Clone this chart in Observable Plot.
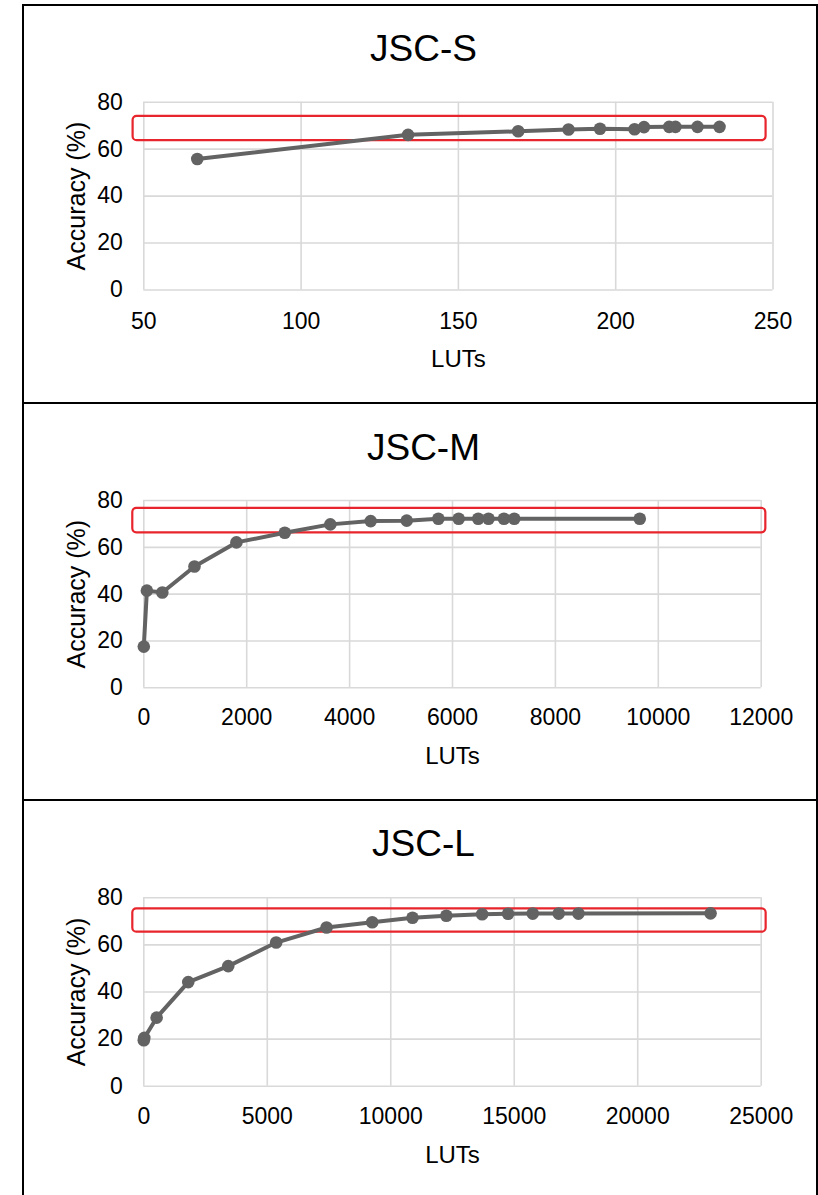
<!DOCTYPE html>
<html><head><meta charset="utf-8">
<script src="https://cdn.jsdelivr.net/npm/d3@7"></script>
<script src="https://cdn.jsdelivr.net/npm/@observablehq/plot@0.6"></script>
<style>
body{margin:0;background:#fff;}
#root{position:relative;width:818px;height:1195px;overflow:hidden;background:#fff;font-family:"Liberation Sans",Arial,sans-serif;}
.box{position:absolute;border:2px solid #000;box-sizing:border-box;}
.title{position:absolute;font-size:37px;line-height:37px;width:300px;text-align:center;color:#000;white-space:nowrap;}
</style></head><body><div id="root"></div>
<script>
// ---- data ----
const titles = ["JSC-S", "JSC-M", "JSC-L"];
const xLabel = "LUTs";
const yLabel = "Accuracy (%)";
const yTicks = [0, 20, 40, 60, 80];

const xTicksS = [50, 100, 150, 200, 250];
const lutsS = [67, 134, 169, 185, 195, 206, 209, 217, 219, 226, 233];
const accS  = [55.8, 66.1, 67.6, 68.4, 68.7, 68.5, 69.4, 69.5, 69.5, 69.5, 69.5];

const xTicksM = [0, 2000, 4000, 6000, 8000, 10000, 12000];
const lutsM = [0, 60, 360, 985, 1800, 2740, 3625, 4410, 5110, 5725, 6120, 6500, 6700, 7000, 7200, 9640];
const accM  = [17.6, 41.5, 40.7, 51.8, 62.1, 66.2, 69.8, 71.2, 71.4, 72.2, 72.2, 72.2, 72.2, 72.2, 72.2, 72.2];

const xTicksL = [0, 5000, 10000, 15000, 20000, 25000];
const lutsL = [0, 20, 520, 1800, 3420, 5360, 7400, 9250, 10880, 12250, 13700, 14750, 15750, 16800, 17600, 22950];
const accL  = [19.5, 20.5, 29.1, 44.2, 51.0, 61.0, 67.4, 69.6, 71.5, 72.4, 73.0, 73.2, 73.3, 73.3, 73.3, 73.4];

// highlighted (red) region of each panel, in data units: [LUTs from, LUTs to, acc from, acc to]
const bandS = [46.6, 247.8, 63.6, 74.0];
const bandM = [-214, 12090, 66.2, 76.6];
const bandL = [-445, 25200, 65.4, 75.3];

// ---- layout ----
const FONT = '"Liberation Sans", Arial, sans-serif';
const GRID = "#d9d9d9";
const LINE = "#636363";
const RED = "#e8242c";

const panels = [
  {title: titles[0], xs: lutsS, ys: accS, ticks: xTicksS, band: bandS, top: 5, height: 398,
   mt: 96.7, mb: 113.5, ml: 143.3, mr: 45.5, tickPad: 22.5, titleTop: 30.4, boxTop: 4, boxH: 400},
  {title: titles[1], xs: lutsM, ys: accM, ticks: xTicksM, band: bandM, top: 403, height: 397,
   mt: 97, mb: 112.7, ml: 143.3, mr: 57.3, tickPad: 21, titleTop: 428.7, boxTop: 402, boxH: 399},
  {title: titles[2], xs: lutsL, ys: accL, ticks: xTicksL, band: bandL, top: 800, height: 395,
   mt: 97.3, mb: 109.3, ml: 143.3, mr: 57.3, tickPad: 21, titleTop: 825.4, boxTop: 799, boxH: 500}
];

const root = document.getElementById("root");

for (const p of panels) {
  const box = document.createElement("div");
  box.className = "box";
  box.style.left = "22px";
  box.style.top = p.boxTop + "px";
  box.style.width = "796px";
  box.style.height = p.boxH + "px";
  root.appendChild(box);

  const data = p.xs.map((x, i) => ({x, y: p.ys[i]}));
  const band = [{x1: p.band[0], x2: p.band[1], y1: p.band[2], y2: p.band[3]}];
  const svg = Plot.plot({
    width: 818,
    height: p.height,
    marginTop: p.mt, marginBottom: p.mb, marginLeft: p.ml, marginRight: p.mr,
    style: {fontFamily: FONT, fontSize: "23px", color: "#000", background: "transparent", overflow: "visible"},
    x: {domain: [p.ticks[0], p.ticks[p.ticks.length - 1]]},
    y: {domain: [0, 80]},
    marks: [
      Plot.gridX(p.ticks, {stroke: GRID, strokeOpacity: 1, strokeWidth: 1.6}),
      Plot.gridY(yTicks, {stroke: GRID, strokeOpacity: 1, strokeWidth: 1.6}),
      Plot.axisX(p.ticks, {tickSize: 0, tickPadding: p.tickPad, label: null, fontSize: 23, fill: "#000", tickFormat: d => String(d)}),
      Plot.axisY(yTicks, {tickSize: 0, tickPadding: 21, label: null, fontSize: 23, fill: "#000", tickFormat: d => String(d)}),
      Plot.rect(band, {x1: "x1", x2: "x2", y1: "y1", y2: "y2", fill: "none", stroke: RED, strokeWidth: 2.2, rx: 4}),
      Plot.line(data, {x: "x", y: "y", stroke: LINE, strokeWidth: 4}),
      Plot.dot(data, {x: "x", y: "y", r: 6.3, fill: LINE}),
      Plot.text([xLabel], {text: d => d, frameAnchor: "bottom", textAnchor: "middle", lineAnchor: "top", dy: 59.5, fontSize: 24, fill: "#000"}),
      Plot.text([yLabel], {text: d => d, frameAnchor: "left", textAnchor: "middle", lineAnchor: "middle", rotate: -90, dx: -67.3, fontSize: 25, fill: "#000"})
    ]
  });
  svg.style.position = "absolute";
  svg.style.left = "0px";
  svg.style.top = p.top + "px";
  root.appendChild(svg);

  const t = document.createElement("div");
  t.className = "title";
  t.textContent = p.title;
  t.style.left = (423.5 - 150) + "px";
  t.style.top = p.titleTop + "px";
  root.appendChild(t);
}
</script>
</body></html>
